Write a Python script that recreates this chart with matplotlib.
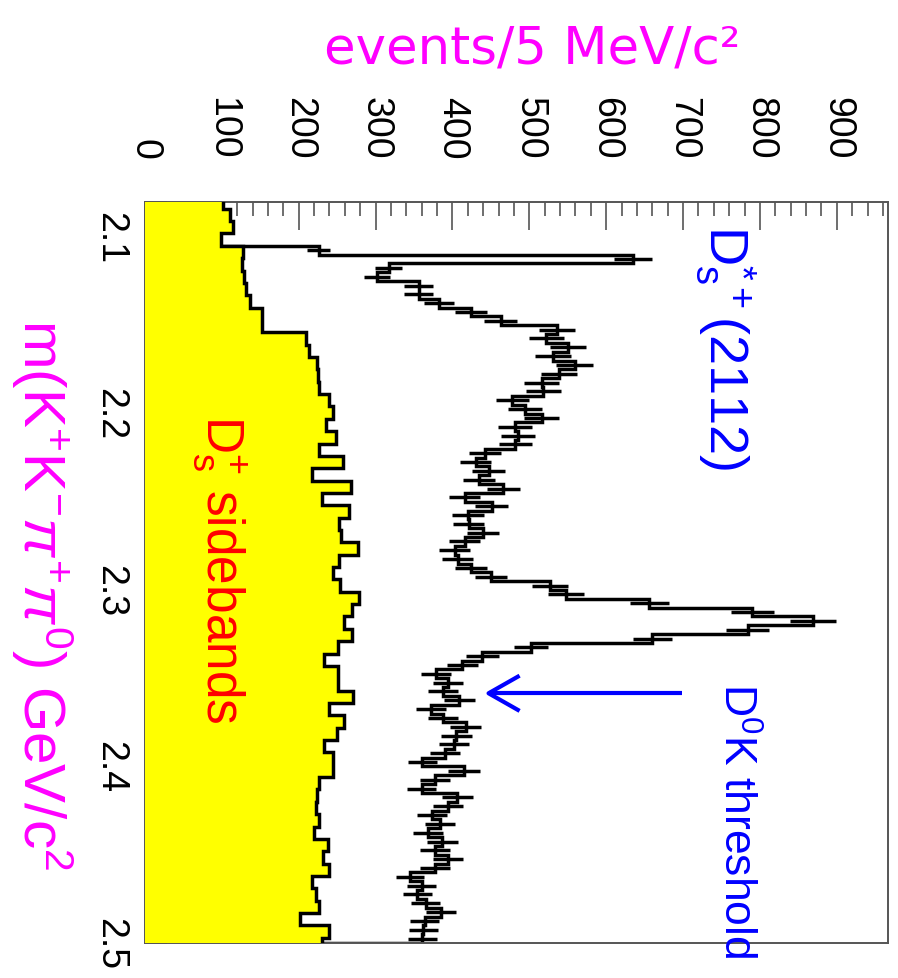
import numpy as np
import matplotlib
matplotlib.use("Agg")
import matplotlib.pyplot as plt

# ---------------- data ----------------
# K+K-pi+pi0 invariant mass, 5 MeV bins starting at 2.08 GeV
mass_lo = 2.08
mass_hi = 2.50
signal_bin_width = 0.005
signal_counts = [
    0, 0, 0, 0, 0, 226, 635, 317, 302, 356,
    356, 383, 424, 463, 536, 522, 550, 531, 559, 539,
    516, 518, 478, 494, 516, 481, 485, 482, 442, 430,
    447, 435, 466, 416, 451, 420, 421, 440, 416, 403,
    407, 424, 450, 527, 548, 656, 790, 869, 784, 660,
    502, 439, 413, 379, 394, 388, 409, 372, 388, 417,
    405, 402, 390, 361, 415, 377, 360, 406, 394, 373,
    384, 368, 387, 377, 394, 377, 345, 360, 354, 365,
    385, 364, 362, 361,
]

# D_s+ sideband distribution, 7 MeV bins starting at 2.077 GeV
sideband_lo = 2.077
sideband_bin_width = 0.007
sideband_counts = [
    101, 111, 115, 99, 128, 126, 129, 131, 136, 152,
    152, 209, 214, 224, 225, 226, 239, 244, 235, 248,
    226, 257, 217, 268, 230, 265, 252, 255, 277, 252,
    244, 254, 278, 269, 259, 269, 251, 233, 251, 251,
    271, 239, 259, 250, 233, 244, 244, 227, 224, 222,
    227, 220, 238, 231, 240, 217, 223, 226, 202, 240,
    230,
]

events_max = 966
events_ticks = [0, 100, 200, 300, 400, 500, 600, 700, 800, 900]
events_tick_labels = ["0", "100", "200", "300", "400", "500", "600", "700", "800", "900"]
mass_ticks = [2.1, 2.2, 2.3, 2.4, 2.5]
mass_tick_labels = ["2.1", "2.2", "2.3", "2.4", "2.5"]

# D0 K threshold (GeV)
m_D0 = 1.86484
m_K = 0.493677
threshold = m_D0 + m_K

# ---------------- style ----------------
plt.rcParams['font.family'] = ['Liberation Sans', 'DejaVu Sans']
plt.rcParams['mathtext.fontset'] = 'custom'
plt.rcParams['mathtext.rm'] = 'Liberation Sans'
plt.rcParams['mathtext.it'] = 'Liberation Sans:italic'
plt.rcParams['mathtext.bf'] = 'Liberation Sans:bold'
plt.rcParams['mathtext.sf'] = 'Liberation Sans'

W, H = 898, 979
fig = plt.figure(figsize=(W / 100, H / 100), dpi=100)
fig.patch.set_facecolor('white')

left, right, top, bottom = 145, 887.5, 202.7, 944
ax = fig.add_axes([left / W, 1 - bottom / H, (right - left) / W, (bottom - top) / H])

hist_lw = 2.5

# signal histogram with statistical error bars
sig = np.asarray(signal_counts, dtype=float)
sig_edges = mass_lo + signal_bin_width * np.arange(len(sig) + 1)
ax.stairs(sig, sig_edges, orientation='horizontal', baseline=0,
          color='black', lw=hist_lw, zorder=2)
centers = 0.5 * (sig_edges[:-1] + sig_edges[1:])
nz = sig > 0
err = np.sqrt(sig[nz])
ax.hlines(centers[nz], sig[nz] - err, sig[nz] + err, color='black',
          lw=hist_lw, zorder=2)

# sideband histogram, filled
sb = np.asarray(sideband_counts, dtype=float)
sb_edges = sideband_lo + sideband_bin_width * np.arange(len(sb) + 1)
ax.stairs(sb, sb_edges, orientation='horizontal', baseline=0, fill=True,
          facecolor='#FFFF00', edgecolor='none', zorder=3)
ax.stairs(sb, sb_edges, orientation='horizontal', baseline=0,
          color='black', lw=hist_lw, zorder=4)

ax.set_xlim(0, events_max)
ax.set_ylim(mass_hi, mass_lo)

# axes frame and ticks
for s in ax.spines.values():
    s.set_color('#555555')
    s.set_linewidth(1.4)

ax.xaxis.set_ticks_position('top')
ax.set_xticks(events_ticks, events_tick_labels)
ax.set_xticks(np.arange(0, events_max, 20), minor=True)
ax.tick_params(axis='x', which='major', direction='in', length=20, width=1.2,
               color='#555555', top=True, bottom=False, labeltop=True,
               labelbottom=False, pad=31, labelsize=27, labelrotation=-90)
ax.tick_params(axis='x', which='minor', direction='in', length=10, width=1.2,
               color='#555555', top=True, bottom=False)

ax.set_yticks(mass_ticks, mass_tick_labels)
ax.set_yticks(np.arange(2.08, 2.5001, 0.02), minor=True)
ax.tick_params(axis='y', which='major', direction='in', length=16, width=1.2,
               color='#555555', left=True, right=False, pad=12,
               labelsize=27, labelrotation=-90)
ax.tick_params(axis='y', which='minor', direction='in', length=16, width=1.2,
               color='#555555', left=True, right=False)
for lab in ax.get_yticklabels():
    lab.set_va('center')

# threshold arrow
arrow_tip, arrow_tail = 447, 699
head_len, head_half = 38, 0.0094
ax.plot([arrow_tip, arrow_tail], [threshold, threshold], color='#0000FF',
        lw=3, solid_capstyle='butt', zorder=5)
ax.plot([arrow_tip + head_len, arrow_tip, arrow_tip + head_len],
        [threshold - head_half, threshold, threshold + head_half],
        color='#0000FF', lw=3, zorder=5)

# annotations
ax.text(755, 2.0927, r"D$_{\mathrm{s}}^{*+}$(2112)", rotation=-90,
        ha='center', va='top', color='#0000FF', fontsize=39, zorder=6)
ax.text(97, 2.2002, r"D$_{\mathrm{s}}^{+}$ sidebands", rotation=-90,
        ha='center', va='top', color='#FF0000', fontsize=37, zorder=6)
ax.text(769, 2.3519, r"D$^{0}$K threshold", rotation=-90,
        ha='center', va='top', color='#0000FF', fontsize=32, zorder=6,
        clip_on=False)

# axis titles
fig.text(532 / W, 1 - 63 / H, "events/5 MeV/c²", ha='center', va='baseline',
         color='#FF00FF', fontsize=37, family=['DejaVu Sans'])
fig.text(42 / W, 1 - 595 / H,
         r"m(K$^{+}$K$^{-}$$\pi^{+}\pi^{0}$) GeV/c$^{2}$",
         rotation=-90, ha='center', va='center', color='#FF00FF', fontsize=42)

fig.savefig("out.png", dpi=100)
